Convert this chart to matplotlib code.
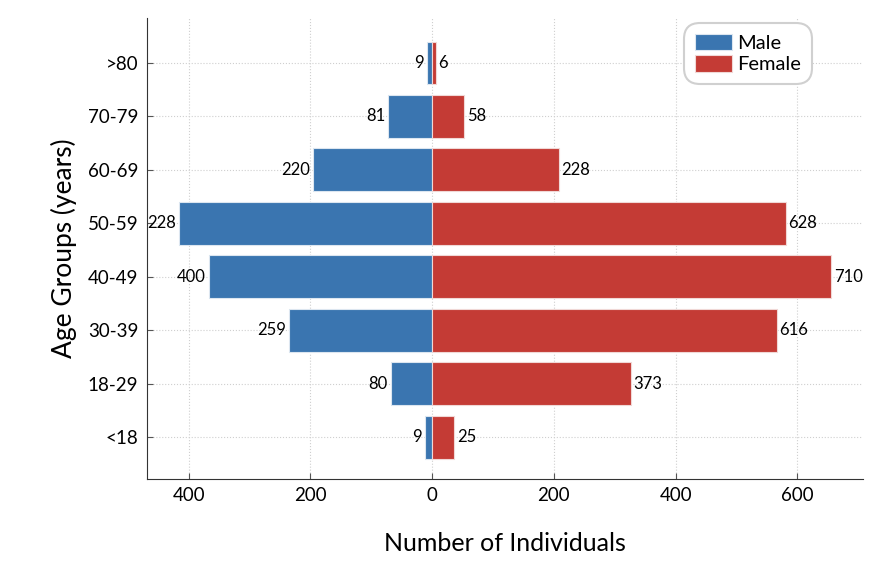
import matplotlib
matplotlib.use("Agg")
import matplotlib.pyplot as plt
from matplotlib.ticker import FuncFormatter

plt.rcParams['font.family'] = ['Lato', 'DejaVu Sans']

age_groups = ['<18', '18-29', '30-39', '40-49', '50-59', '60-69', '70-79', '>80']
male_values = [12, 68, 235, 367, 416, 196, 72, 9]
female_values = [36, 326, 566, 656, 581, 208, 53, 6]
male_labels = ['9', '80', '259', '400', '228', '220', '81', '9']
female_labels = ['25', '373', '616', '710', '628', '228', '58', '6']

blue = '#3a75b0'
red = '#c43b35'

fig = plt.figure(figsize=(8.82, 5.68), dpi=100)
ax = fig.add_axes([0.1663, 0.1567, 0.8122, 0.8116])

y = list(range(len(age_groups)))
neg_male = [-v for v in male_values]
ax.barh(y, neg_male, height=0.8, color=blue, edgecolor='#dce6f0', linewidth=0.8, label='Male', zorder=3)
ax.barh(y, female_values, height=0.8, color=red, edgecolor='#f0d8d6', linewidth=0.8, label='Female', zorder=3)

for yi, v, t in zip(y, neg_male, male_labels):
    ax.annotate(t, (v, yi), xytext=(-2, 0), textcoords='offset points',
                ha='right', va='center', fontsize=12, zorder=4)
for yi, v, t in zip(y, female_values, female_labels):
    ax.annotate(t, (v, yi), xytext=(2, 0), textcoords='offset points',
                ha='left', va='center', fontsize=12, zorder=4)

ax.set_xlim(-469, 708)
ax.set_ylim(-0.78, 7.84)
ax.set_yticks(y)
ax.set_yticklabels(age_groups, fontsize=13.5)
ax.set_xticks([-400, -200, 0, 200, 400, 600])
ax.xaxis.set_major_formatter(FuncFormatter(lambda v, p: f'{abs(int(v))}'))
ax.tick_params(axis='x', labelsize=13.5)
ax.tick_params(direction='in', length=4, color='#555555', pad=6)

ax.grid(True, linestyle=':', color='#cfcfcf', linewidth=0.8, zorder=0)
ax.spines['top'].set_visible(False)
ax.spines['right'].set_visible(False)
ax.spines['left'].set_color('#333333')
ax.spines['bottom'].set_color('#333333')

ax.set_xlabel('Number of Individuals', fontsize=18, labelpad=20)
ax.set_ylabel('Age Groups (years)', fontsize=19, labelpad=8)

leg = ax.legend(loc='upper right', fontsize=14.5, frameon=True, fancybox=True,
                edgecolor='#d0d0d0', framealpha=1, handlelength=1.85,
                handleheight=0.9, handletextpad=0.25, borderpad=0.55,
                labelspacing=0.15, bbox_to_anchor=(0.943, 1.012))
leg.get_frame().set_linewidth(1.5)
leg.get_frame().set_boxstyle('round', pad=0, rounding_size=0.8)

fig.savefig('out.png', dpi=100)
